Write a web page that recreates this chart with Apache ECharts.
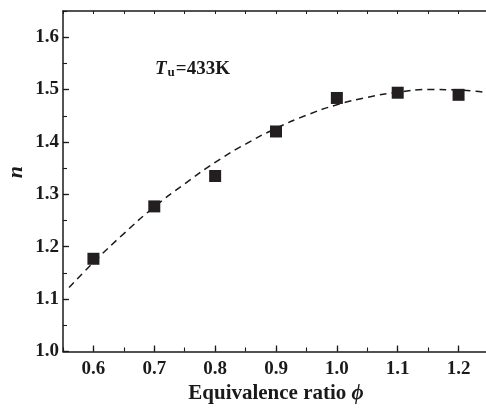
<!DOCTYPE html>
<html><head><meta charset="utf-8">
<script src="https://cdn.jsdelivr.net/npm/echarts@6/dist/echarts.min.js"></script>
<style>html,body{margin:0;padding:0;background:#fff}#c{width:486px;height:408px}</style>
</head><body><div id="c"></div>
<script>
const phi = [0.6, 0.7, 0.8, 0.9, 1.0, 1.1, 1.2];
const nMeasured = [1.177, 1.277, 1.335, 1.420, 1.484, 1.494, 1.490];
const fitPhi = [0.56, 0.6, 0.65, 0.7, 0.75, 0.8, 0.85, 0.9, 0.95, 1.0, 1.05, 1.1, 1.15, 1.2, 1.25];
const fitN = [1.122, 1.170, 1.225, 1.276, 1.320, 1.361, 1.396, 1.426, 1.451, 1.471, 1.485, 1.495, 1.500, 1.499, 1.494];
const xTicks = [0.6, 0.7, 0.8, 0.9, 1.0, 1.1, 1.2];
const yTicks = [1.0, 1.1, 1.2, 1.3, 1.4, 1.5, 1.6];

const FONT = 'Liberation Serif';
const AX = '#1a1a1a';
const chart = echarts.init(document.getElementById('c'), null, {renderer:'canvas'});
const lab = {fontFamily: FONT, fontWeight: 'bold', fontSize: 19, color: '#1a1a1a'};
const hidden = {show: false};
chart.setOption({
  animation: false,
  grid: {left: 63, top: 11, width: 426, height: 340.5, show: false, containLabel: false, outerBoundsMode: 'none'},
  xAxis: [{
    type: 'value', min: 0.55, max: 1.25,
    axisLine: {lineStyle: {color: AX, width: 1.5}},
    axisTick: {inside: true, length: 6, customValues: xTicks, lineStyle: {color: AX, width: 1.3}},
    splitLine: hidden,
    axisLabel: Object.assign({margin: 8, customValues: xTicks, formatter: v => v.toFixed(1)}, lab),
    name: 'Equivalence ratio {i|\u03d5}', nameLocation: 'middle', nameGap: 32,
    nameTextStyle: {fontFamily: FONT, fontWeight: 'bold', fontSize: 21, color: '#1a1a1a',
      rich: {i: {fontFamily: FONT, fontWeight: 'bold', fontStyle: 'italic', fontSize: 21, color: '#1a1a1a'}}}
  }, {
    type: 'value', min: 0.55, max: 1.25, interval: 0.05, position: 'bottom', gridIndex: 0,
    axisLine: hidden,
    axisTick: {inside: true, length: 4, lineStyle: {color: AX, width: 1.1}},
    axisLabel: hidden, splitLine: hidden
  }, {
    type: 'value', min: 0.55, max: 1.25, interval: 0.05, position: 'top',
    axisLine: {lineStyle: {color: AX, width: 1.5}},
    axisTick: {inside: true, length: 3, lineStyle: {color: AX, width: 1}},
    axisLabel: hidden, splitLine: hidden
  }],
  yAxis: [{
    type: 'value', min: 1.0, max: 1.65,
    axisLine: {show: true, lineStyle: {color: AX, width: 1.5}},
    axisTick: {inside: true, length: 6, customValues: yTicks, lineStyle: {color: AX, width: 1.3}},
    splitLine: hidden,
    axisLabel: Object.assign({margin: 4, customValues: yTicks, formatter: v => v.toFixed(1)}, lab)
  }, {
    type: 'value', min: 1.0, max: 1.65, interval: 0.05, position: 'left',
    axisLine: hidden,
    axisTick: {inside: true, length: 4, lineStyle: {color: AX, width: 1.1}},
    axisLabel: hidden, splitLine: hidden
  }],
  graphic: [
    {type: 'text', left: 5, top: 166, rotation: Math.PI/2,
      style: {text: 'n', font: 'italic bold 22px "Liberation Serif"', fill: '#1a1a1a'}},
    {type: 'text', left: 155, top: 60,
      style: {text: '{t|T}{u|u}{e|=433K}', rich: {
        t: {fontFamily: FONT, fontStyle: 'italic', fontWeight: 'bold', fontSize: 19, fill: '#1a1a1a'},
        u: {fontFamily: FONT, fontWeight: 'bold', fontSize: 13, fill: '#1a1a1a', verticalAlign: 'bottom', padding: [7,1,0,1]},
        e: {fontFamily: FONT, fontWeight: 'bold', fontSize: 19, fill: '#1a1a1a'}
      }}}
  ],
  series: [{
    type: 'line', data: fitPhi.map((x,i)=>[x, fitN[i]]), smooth: true, symbol: 'none',
    lineStyle: {color: '#1a1a1a', width: 1.5, type: [7,5]}, z: 2
  }, {
    type: 'scatter', data: phi.map((x,i)=>[x, nMeasured[i]]), symbol: 'rect', symbolSize: 12,
    itemStyle: {color: '#231f20', opacity: 1}, z: 3
  }]
});
</script></body></html>
